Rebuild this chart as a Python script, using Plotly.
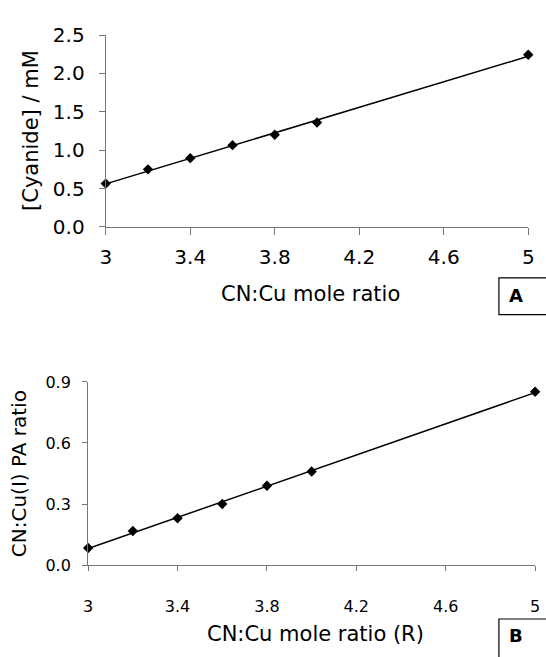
import numpy as np
import plotly.graph_objects as go

# ---- data ----
ratio = [3.0, 3.2, 3.4, 3.6, 3.8, 4.0, 5.0]
cyanide_mM = [0.564, 0.75, 0.896, 1.065, 1.20, 1.36, 2.245]
pa_ratio = [0.084, 0.167, 0.23, 0.30, 0.39, 0.46, 0.852]
x_ticks = [3, 3.4, 3.8, 4.2, 4.6, 5]
x_ticktext = ["3", "3.4", "3.8", "4.2", "4.6", "5"]
yA_ticks = [0, 0.5, 1.0, 1.5, 2.0, 2.5]
yB_ticks = [0, 0.3, 0.6, 0.9]

W, H = 546, 657
FONT = "DejaVu Sans"

def px(x):
    return x / W

def py(y):
    return 1 - y / H

# trend lines (least squares through the data)
def fit(xs, ys):
    m, c = np.polyfit(xs, ys, 1)
    xe = [min(xs), max(xs)]
    return xe, [m * v + c for v in xe]

fa_x, fa_y = fit(ratio, cyanide_mM)
fb_x, fb_y = fit(ratio, pa_ratio)

fig = go.Figure()
fig.add_trace(go.Scatter(x=fa_x, y=fa_y, mode="lines", line=dict(color="black", width=1.5),
                         xaxis="x", yaxis="y", cliponaxis=False, showlegend=False))
fig.add_trace(go.Scatter(x=ratio, y=cyanide_mM, mode="markers",
                         marker=dict(symbol="diamond", size=8, color="black"),
                         xaxis="x", yaxis="y", cliponaxis=False, showlegend=False))
fig.add_trace(go.Scatter(x=fb_x, y=fb_y, mode="lines", line=dict(color="black", width=1.5),
                         xaxis="x2", yaxis="y2", cliponaxis=False, showlegend=False))
fig.add_trace(go.Scatter(x=ratio, y=pa_ratio, mode="markers",
                         marker=dict(symbol="diamond", size=8, color="black"),
                         xaxis="x2", yaxis="y2", cliponaxis=False, showlegend=False))

axcol = "#777777"
common = dict(showgrid=False, zeroline=False, showline=True, linecolor=axcol, linewidth=1.2,
              ticks="outside", tickcolor=axcol, tickwidth=1.2)

fig.update_layout(
    width=W, height=H, autosize=False,
    margin=dict(l=0, r=0, t=0, b=0),
    paper_bgcolor="white", plot_bgcolor="white",
    font=dict(family=FONT, color="black"),
    xaxis=dict(domain=[px(102), px(534)], range=[3, 5], anchor="y",
               tickvals=x_ticks, ticktext=x_ticktext, ticklen=7,
               tickfont=dict(size=20), ticklabelstandoff=5, **common),
    yaxis=dict(domain=[py(223), py(24)], range=[0, 2.5], anchor="x",
               tickvals=yA_ticks, tickformat=".1f", ticklen=6,
               tickfont=dict(size=20), ticklabelstandoff=10, **common),
    xaxis2=dict(domain=[px(84), px(541)], range=[3, 5], anchor="y2",
                tickvals=x_ticks, ticktext=x_ticktext, ticklen=5,
                tickfont=dict(size=16), ticklabelstandoff=22, **common),
    yaxis2=dict(domain=[py(574), py(384)], range=[0, 0.9], anchor="x2",
                tickvals=yB_ticks, tickformat=".1f", ticklen=5,
                tickfont=dict(size=16), ticklabelstandoff=8, **common),
)

annots = [
    dict(text="[Cyanide] / mM", x=px(25), y=py(123), textangle=-90, font=dict(size=21)),
    dict(text="CN:Cu mole ratio", x=px(311), y=py(293), font=dict(size=21)),
    dict(text="CN:Cu(I) PA ratio", x=px(13), y=py(479), textangle=-90, font=dict(size=20)),
    dict(text="CN:Cu mole ratio (R)", x=px(316), y=py(646), font=dict(size=21)),
    dict(text="<b>A</b>", x=px(521), y=py(294), font=dict(size=18)),
    dict(text="<b>B</b>", x=px(521), y=py(647), font=dict(size=18)),
]
for a in annots:
    fig.add_annotation(xref="paper", yref="paper", showarrow=False,
                       xanchor="center", yanchor="middle", **a)

fig.add_shape(type="rect", xref="paper", yref="paper",
              x0=px(504), x1=px(560), y0=py(314), y1=py(276),
              line=dict(color="black", width=1.2))
fig.add_shape(type="rect", xref="paper", yref="paper",
              x0=px(504), x1=px(560), y0=py(670), y1=py(630),
              line=dict(color="black", width=1.2))

fig.write_html("out.html")
